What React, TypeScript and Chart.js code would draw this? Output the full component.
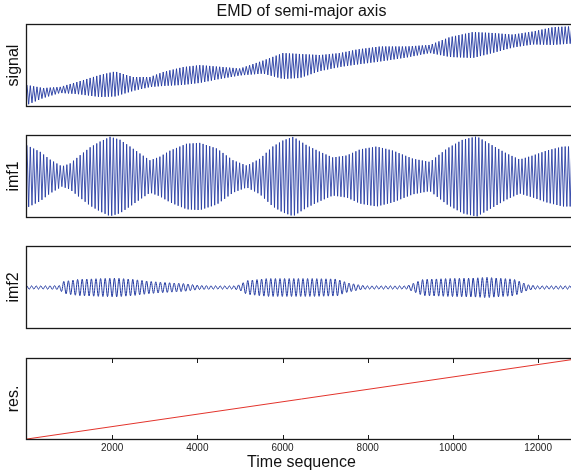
import React, { useEffect, useRef } from "react";
import { Chart, registerables } from "chart.js";

Chart.register(...registerables);
Chart.defaults.font.family = "'Liberation Sans', Arial, sans-serif";
Chart.defaults.color = "#111";

// ---- data -------------------------------------------------------------

const X_MAX = 12890;
const X_TICKS = [2000, 4000, 6000, 8000, 10000, 12000];

// Oscillation periods of the two modes (time steps per cycle)
const IMF1_PERIOD = 78;
const IMF2_PERIOD = 108;

// Original signal: slow mean level and half-swing of the fast oscillation
const signalT = [0, 380, 775, 1170, 1710, 2070, 2490, 2890, 3190, 3660, 4060, 4460, 5000, 5540, 6010, 6410, 6880, 7350, 7750, 8290, 8920, 9460, 9930, 10470, 10940, 11410, 11880, 12350, 12890];
const signalMean = [13.6, 16, 19.8, 22.2, 24.7, 27.2, 27.2, 29.6, 33.3, 37, 39.5, 40.7, 42, 48, 49.4, 49.4, 53, 56.8, 60.5, 64.2, 66.7, 70.4, 72.8, 75.3, 77.8, 80.2, 84, 86.4, 88];
const signalSwing = [12.3, 6.2, 3.7, 7.4, 13.6, 15.4, 8.6, 6.2, 8.6, 11, 11, 8, 4.3, 8, 16, 14.8, 9.9, 8.6, 9.3, 9.3, 6.8, 5, 12.3, 16, 12.3, 8, 8, 11, 10.5];

// IMF 1: beating envelope
const imf1T = [0, 310, 540, 820, 1010, 1240, 1480, 1710, 1950, 2180, 2420, 2650, 2890, 3120, 3360, 3750, 4060, 4460, 4840, 5160, 5470, 5770, 6010, 6250, 6570, 6880, 7180, 7510, 7820, 8210, 8590, 9060, 9460, 9860, 10230, 10560, 10860, 11260, 11570, 11880, 12200, 12580, 12890];
const imf1Amp = [0.77, 0.61, 0.42, 0.25, 0.32, 0.52, 0.72, 0.86, 0.98, 0.91, 0.74, 0.57, 0.4, 0.49, 0.64, 0.81, 0.83, 0.69, 0.4, 0.27, 0.44, 0.74, 0.89, 0.98, 0.77, 0.61, 0.47, 0.52, 0.67, 0.74, 0.64, 0.44, 0.36, 0.69, 0.91, 0.99, 0.81, 0.57, 0.42, 0.52, 0.64, 0.74, 0.74];

// IMF 2: wave packets
const imf2T = [0, 400, 760, 860, 1200, 1710, 2100, 2500, 2890, 3300, 3660, 4060, 4460, 4840, 5000, 5160, 5630, 6100, 6700, 7280, 7510, 7820, 7980, 8920, 9060, 9300, 9860, 10400, 10800, 11200, 11410, 11570, 11760, 11970, 12890];
const imf2Amp = [0.04, 0.04, 0.05, 0.15, 0.2, 0.22, 0.23, 0.2, 0.15, 0.12, 0.1, 0.05, 0.04, 0.04, 0.07, 0.17, 0.22, 0.22, 0.22, 0.21, 0.12, 0.06, 0.04, 0.04, 0.1, 0.2, 0.22, 0.23, 0.25, 0.22, 0.21, 0.15, 0.07, 0.04, 0.04];

// Residual trend
const resT = [0, 12890];
const resValue = [0, 1];

// ---- helpers ----------------------------------------------------------

function envAt(ts: number[], vs: number[], t: number): number {
  if (t <= ts[0]) return vs[0];
  for (let i = 1; i < ts.length; i++) {
    if (t <= ts[i]) {
      const f = (t - ts[i - 1]) / (ts[i] - ts[i - 1]);
      return vs[i - 1] + f * (vs[i] - vs[i - 1]);
    }
  }
  return vs[vs.length - 1];
}

// Alternating crest / trough points of an oscillation with the given envelope
function oscillation(period: number, ts: number[], amp: number[], mean?: number[]) {
  const pts: { x: number; y: number }[] = [];
  const half = period / 2;
  for (let k = 0; k * half <= X_MAX; k++) {
    const t = k * half;
    const a = envAt(ts, amp, t);
    const m = mean ? envAt(ts, mean, t) : 0;
    pts.push({ x: t, y: m + (k % 2 === 0 ? a : -a) });
  }
  return pts;
}

const BLUE = "#2138a0";
const RED = "#e3342c";

// Box around the axes, with inward x ticks where requested
const framePlugin = {
  id: "frame",
  afterDatasetsDraw(chart: any, _args: any, opts: any) {
    const { ctx, chartArea: a } = chart;
    ctx.save();
    ctx.strokeStyle = "#1a1a1a";
    ctx.lineWidth = 1.3;
    ctx.strokeRect(a.left - 0.5, a.top - 0.5, a.right - a.left + 1, a.bottom - a.top + 1);
    if (opts && opts.ticks) {
      const xs = chart.scales.x;
      ctx.lineWidth = 1;
      ctx.beginPath();
      for (const v of X_TICKS) {
        const px = Math.round(xs.getPixelForValue(v)) + 0.5;
        ctx.moveTo(px, a.bottom);
        ctx.lineTo(px, a.bottom - 4);
        ctx.moveTo(px, a.top);
        ctx.lineTo(px, a.top + 4);
      }
      ctx.stroke();
    }
    ctx.restore();
  },
};

type PanelSpec = {
  label: string;
  data: { x: number; y: number }[];
  color: string;
  width: number;
  smooth?: boolean;
  yMin: number;
  yMax: number;
  padTop: number;
  padBottom: number;
  title?: string;
  xAxis?: boolean;
};

function buildConfig(p: PanelSpec): any {
  const xScale: any = {
    type: "linear",
    min: 0,
    max: X_MAX,
    display: !!p.xAxis,
    grid: { display: false, drawTicks: false },
    border: { display: false },
    ticks: {
      padding: 3,
      maxRotation: 0,
      autoSkip: false,
      color: "#222",
      font: { size: 10 },
      callback: (v: number) => String(v),
    },
    afterBuildTicks: (s: any) => {
      s.ticks = X_TICKS.map((v) => ({ value: v }));
    },
    title: {
      display: true,
      text: "Time sequence",
      color: "#111",
      font: { size: 16 },
      padding: { top: 4, bottom: 4 },
    },
  };
  if (p.xAxis) {
    xScale.afterFit = (s: any) => {
      s.height = 37;
    };
  }
  return {
    type: "line",
    data: {
      datasets: [
        {
          data: p.data,
          borderColor: p.color,
          borderWidth: p.width,
          pointRadius: 0,
          fill: false,
          tension: 0,
          cubicInterpolationMode: p.smooth ? "monotone" : "default",
        },
      ],
    },
    options: {
      animation: false,
      responsive: false,
      devicePixelRatio: 1,
      events: [],
      layout: { padding: { top: p.padTop, bottom: p.padBottom, left: 0, right: 1 } },
      plugins: {
        legend: { display: false },
        tooltip: { enabled: false },
        title: p.title
          ? {
              display: true,
              text: p.title,
              fullSize: false,
              color: "#111",
              font: { size: 16, weight: "normal" },
              padding: { top: 2, bottom: 3.8 },
            }
          : { display: false },
        frame: { ticks: !!p.xAxis },
      },
      scales: {
        x: xScale,
        y: {
          min: p.yMin,
          max: p.yMax,
          grid: { display: false, drawTicks: false },
          border: { display: false },
          ticks: { display: false },
          afterFit: (s: any) => {
            s.width = 27;
          },
          title: {
            display: true,
            text: p.label,
            color: "#111",
            font: { size: 16 },
            padding: 4,
          },
        },
      },
    },
    plugins: [framePlugin],
  };
}

function Panel({ spec, top, height }: { spec: PanelSpec; top: number; height: number }) {
  const ref = useRef<HTMLCanvasElement>(null);
  useEffect(() => {
    const chart = new Chart(ref.current as HTMLCanvasElement, buildConfig(spec));
    return () => chart.destroy();
  }, []);
  return (
    <canvas
      ref={ref}
      width={577}
      height={height}
      style={{ position: "absolute", left: 0, top, width: 577, height }}
    />
  );
}

const panels: { spec: PanelSpec; top: number; height: number }[] = [
  {
    top: 0,
    height: 110,
    spec: {
      label: "signal",
      data: oscillation(IMF1_PERIOD, signalT, signalSwing, signalMean),
      color: BLUE,
      width: 0.9,
      yMin: 0,
      yMax: 100,
      padTop: 0,
      padBottom: 4,
      title: "EMD of semi-major axis",
    },
  },
  {
    top: 120,
    height: 110,
    spec: {
      label: "imf1",
      data: oscillation(IMF1_PERIOD, imf1T, imf1Amp),
      color: BLUE,
      width: 0.85,
      yMin: -1,
      yMax: 1,
      padTop: 16,
      padBottom: 13,
    },
  },
  {
    top: 231,
    height: 110,
    spec: {
      label: "imf2",
      data: oscillation(IMF2_PERIOD, imf2T, imf2Amp),
      color: BLUE,
      width: 1,
      smooth: true,
      yMin: -1,
      yMax: 1,
      padTop: 16,
      padBottom: 13,
    },
  },
  {
    top: 340,
    height: 136,
    spec: {
      label: "res.",
      data: resT.map((t, i) => ({ x: t, y: resValue[i] })),
      color: RED,
      width: 1,
      yMin: 0,
      yMax: 1,
      padTop: 19,
      padBottom: 0,
      xAxis: true,
    },
  },
];

export default function App() {
  return (
    <div
      style={{
        position: "absolute",
        left: 0,
        top: 0,
        width: 571,
        height: 476,
        overflow: "hidden",
        background: "#fff",
      }}
    >
      {panels.map((p, i) => (
        <Panel key={i} spec={p.spec} top={p.top} height={p.height} />
      ))}
    </div>
  );
}
